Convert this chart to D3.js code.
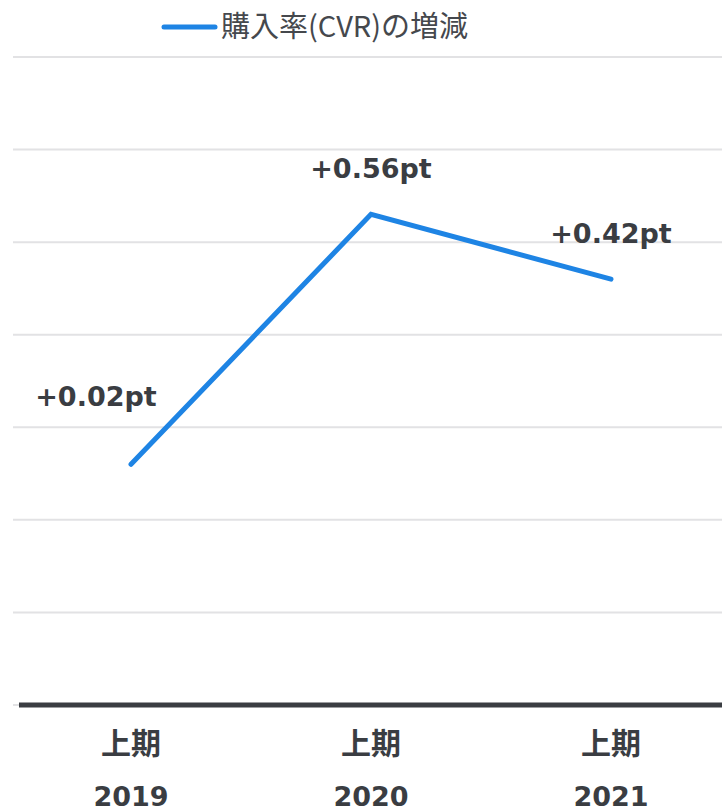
<!DOCTYPE html>
<html>
<head>
<meta charset="utf-8">
<script src="https://cdn.jsdelivr.net/npm/d3@7"></script>
<style>
  body { margin: 0; background: #fff; }
  svg { display: block; font-family: "Noto Sans CJK JP", "Noto Sans", sans-serif; }
  .num { font-family: "DejaVu Sans", "Noto Sans CJK JP", sans-serif; font-weight: bold; }
</style>
</head>
<body>
<div id="chart"></div>
<script>
'use strict';

// データ
var periods = ["上期", "上期", "上期"];
var years = ["2019", "2020", "2021"];
var cvrDelta = [0.02, 0.56, 0.42];
var valueLabels = ["+0.02pt", "+0.56pt", "+0.42pt"];
var gridTicks = [-0.5, -0.3, -0.1, 0.1, 0.3, 0.5, 0.7, 0.9];
var seriesName = "購入率(CVR)の増減";

var width = 722, height = 811;
var textColor = "#3a3d42";
var lineColor = "#1e84e4";

var svg = d3.select("#chart")
    .append("svg")
    .attr("width", width)
    .attr("height", height);

var x = d3.scalePoint()
    .domain(years)
    .range([11, 731])
    .padding(0.5);

var y = d3.scaleLinear()
    .domain([-0.5, 0.9])
    .range([705, 57]);

// グリッド線
svg.append("g")
    .selectAll("line")
    .data(gridTicks.slice(1))
    .enter().append("line")
    .attr("x1", 13)
    .attr("x2", width)
    .attr("y1", d => y(d))
    .attr("y2", d => y(d))
    .attr("stroke", "#e2e2e4")
    .attr("stroke-width", 2);

// 基線
svg.append("line")
    .attr("x1", 13).attr("x2", 19)
    .attr("y1", y(-0.5)).attr("y2", y(-0.5))
    .attr("stroke", "#e2e2e4").attr("stroke-width", 2);
svg.append("line")
    .attr("x1", 19).attr("x2", width)
    .attr("y1", y(-0.5)).attr("y2", y(-0.5))
    .attr("stroke", textColor).attr("stroke-width", 5);

// X軸ラベル
var xl = svg.append("g")
    .selectAll("g")
    .data(years)
    .enter().append("g")
    .attr("transform", d => "translate(" + x(d) + ",0)");

xl.append("text")
    .text((d, i) => periods[i])
    .attr("y", 754)
    .attr("text-anchor", "middle")
    .style("font-size", "30px")
    .style("font-weight", "bold")
    .style("fill", textColor);

xl.append("text")
    .attr("class", "num")
    .text(d => d)
    .attr("y", 806)
    .attr("text-anchor", "middle")
    .style("font-size", "27px")
    .style("fill", textColor);

// 折れ線
var line = d3.line()
    .x((d, i) => x(years[i]))
    .y(d => y(d));

svg.append("path")
    .datum(cvrDelta)
    .attr("d", line)
    .attr("fill", "none")
    .attr("stroke", lineColor)
    .attr("stroke-width", 5)
    .attr("stroke-linecap", "round")
    .attr("stroke-linejoin", "miter");

// 値ラベル（上昇区間の始点は左上へずらす）
svg.append("g")
    .selectAll("text")
    .data(cvrDelta)
    .enter().append("text")
    .attr("class", "num")
    .text((d, i) => valueLabels[i])
    .attr("x", (d, i) => x(years[i]) + (i === 0 ? -35 : 0))
    .attr("y", (d, i) => y(d) + (i === 0 ? -58 : -36))
    .attr("text-anchor", "middle")
    .style("font-size", "27px")
    .style("fill", textColor);

// 凡例
var legend = svg.append("g").attr("transform", "translate(162,27)");
legend.append("line")
    .attr("x1", 2).attr("x2", 53)
    .attr("stroke", lineColor)
    .attr("stroke-width", 5)
    .attr("stroke-linecap", "round");
legend.append("text")
    .text(seriesName)
    .attr("x", 59)
    .attr("dy", "0.35em")
    .style("font-size", "29px")
    .style("fill", "#45484d");
</script>
</body>
</html>
